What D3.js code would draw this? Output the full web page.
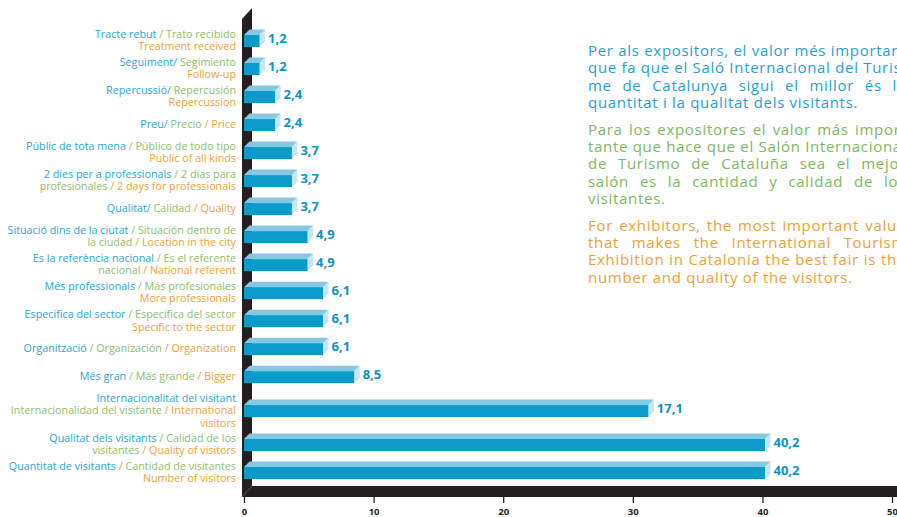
<!DOCTYPE html>
<html><head><meta charset="utf-8">
<script src="https://cdn.jsdelivr.net/npm/d3@7"></script>
<style>
html,body{margin:0;padding:0;background:#fff;overflow:hidden;}
svg{display:block;}
</style></head><body>
<svg id="chart" width="897" height="517"></svg>
<script>
// ---------------- DATA ----------------
const categories = [
  "Tracte rebut","Seguiment","Repercussió","Preu","Públic de tota mena",
  "2 dies per a professionals","Qualitat","Situació dins de la ciutat",
  "Es la referència nacional","Més professionals","Específica del sector",
  "Organització","Més gran","Internacionalitat del visitant",
  "Qualitat dels visitants","Quantitat de visitants"
];
// bar lengths as drawn in the picture
const values = [1.2,1.2,2.4,2.4,3.7,3.7,3.7,4.9,4.9,6.1,6.1,6.1,8.5,31.2,40.2,40.2];
// value labels as printed in the picture
const valueLabels = ["1,2","1,2","2,4","2,4","3,7","3,7","3,7","4,9","4,9","6,1","6,1","6,1","8,5","17,1","40,2","40,2"];
// each label: lines -> segments [text, language]
const labelLines = [
  [[["Tracte rebut ","ca"],["/ Trato recibido","es"]],[["Treatment received","en"]]],
  [[["Seguiment/","ca"],[" Segimiento","es"]],[["Follow-up","en"]]],
  [[["Repercussió/","ca"],[" Repercusión","es"]],[["Repercussion","en"]]],
  [[["Preu/","ca"],[" Precio ","es"],["/ Price","en"]]],
  [[["Públic de tota mena ","ca"],["/ Público de todo tipo","es"]],[["Public of all kinds","en"]]],
  [[["2 dies per a professionals ","ca"],["/ 2 días para","es"]],[["profesionales ","es"],["/ 2 days for professionals","en"]]],
  [[["Qualitat/","ca"],[" Calidad ","es"],["/ Quality","en"]]],
  [[["Situació dins de la ciutat ","ca"],["/ Situación dentro de","es"]],[["la ciudad ","es"],["/ Location in the city","en"]]],
  [[["Es la referència nacional ","ca"],["/ Es el referente","es"]],[["nacional ","es"],["/ National referent","en"]]],
  [[["Més professionals ","ca"],["/ Más profesionales","es"]],[["More professionals","en"]]],
  [[["Específica del sector ","ca"],["/ Específica del sector","es"]],[["Specific to the sector","en"]]],
  [[["Organització ","ca"],["/ Organización ","es"],["/ Organization","en"]]],
  [[["Més gran ","ca"],["/ Más grande ","es"],["/ Bigger","en"]]],
  [[["Internacionalitat del visitant","ca"]],[["Internacionalidad del visitante ","es"],["/ International","en"]],[["visitors","en"]]],
  [[["Qualitat dels visitants ","ca"],["/ Calidad de los","es"]],[["visitantes ","es"],["/ Quality of visitors","en"]]],
  [[["Quantitat de visitants ","ca"],["/ Cantidad de visitantes","es"]],[["Number of visitors","en"]]]
];
const xTicks = [0,10,20,30,40,50];
const noteCa = [
  "Per als expositors, el valor més important",
  "que fa que el Saló Internacional del Turis-",
  "me de Catalunya sigui el millor és la",
  "quantitat i la qualitat dels visitants."
];
const noteEs = [
  "Para los expositores el valor más impor-",
  "tante que hace que el Salón Internacional",
  "de Turismo de Cataluña sea el mejor",
  "salón es la cantidad y calidad de los",
  "visitantes."
];
const noteEn = [
  "For exhibitors, the most important value",
  "that makes the International Tourism",
  "Exhibition in Catalonia the best fair is the",
  "number and quality of the visitors."
];

// ---------------- STYLE ----------------
const langColor = {ca:"#2aa6d8", es:"#8cbf6b", en:"#eea23a"};
const noteColor = {ca:"#1f9fd6", es:"#7db95d", en:"#eda136"};
const FONT = "'Open Sans', 'DejaVu Sans', sans-serif";
const ink = "#231f20";

const svg = d3.select("#chart");
const W = 897, H = 517;

const x = d3.scaleLinear().domain([0,50]).range([244,892]);
const n = categories.length;
const weights = labelLines.map(l => l.length >= 3 ? 1.42 : 1);
let acc = 0;
const centersU = weights.map(w => { const c = acc + w/2; acc += w; return c; });
const y = d3.scaleLinear().domain([centersU[0], centersU[n-1]]).range([41, 473]);

const x0 = x(0);
const floorTop = 486, floorBot = 497;
const depth = 5.5, barH = 12;

// wall + floor
svg.append("path")
  .attr("d", `M${x0-2},19 L${x0+8},8 L${x0+8},${floorTop} L${W},${floorTop} L${W},${floorBot} L${x0-2},${floorBot} Z`)
  .attr("fill", ink);
svg.append("line")
  .attr("x1", x0-2).attr("y1", floorBot).attr("x2", x0+8).attr("y2", floorTop)
  .attr("stroke", "#6a6668").attr("stroke-width", 0.8);

// bars
const bars = svg.append("g").selectAll("g").data(values).join("g");
bars.each(function(v, i){
  const g = d3.select(this);
  const c = y(centersU[i]);
  const t = c - barH/2, b = c + barH/2;
  const x1 = x(v);
  g.append("polygon")
    .attr("points", [[x0,t],[x0+depth,t-depth],[x1+depth,t-depth],[x1,t]].join(" "))
    .attr("fill", "#86c7e2");
  g.append("polygon")
    .attr("points", [[x1,t],[x1+depth,t-depth],[x1+depth,b-depth],[x1,b]].join(" "))
    .attr("fill", "#c7e6f2");
  g.append("rect")
    .attr("x", x0).attr("y", t).attr("width", x1 - x0).attr("height", barH)
    .attr("fill", "#0a9bcb");
});

// value labels
svg.append("g").selectAll("text").data(values).join("text")
  .attr("x", d => x(d) + depth + 3)
  .attr("y", (d,i) => y(centersU[i]) - 3)
  .attr("dominant-baseline", "central")
  .attr("font-family", FONT).attr("font-weight", 700).attr("font-size", 13)
  .attr("fill", "#0795c8")
  .text((d,i) => valueLabels[i]);

// category labels
const lh = 12.3;
const labG = svg.append("g").attr("font-family", FONT).attr("font-size", 10.75).attr("text-anchor", "end");
labelLines.forEach((lines, i) => {
  const c = y(centersU[i]) - 0.8;
  lines.forEach((segs, j) => {
    const t = labG.append("text")
      .attr("x", 236)
      .attr("y", c + (j - (lines.length-1)/2) * lh)
      .attr("dominant-baseline", "central")
      .attr("xml:space", "preserve");
    segs.forEach(s => t.append("tspan").attr("fill", langColor[s[1]]).text(s[0]));
  });
});

// axis
const axisG = svg.append("g").attr("transform", `translate(0,${floorBot-1})`)
  .call(d3.axisBottom(x).tickValues(xTicks).tickSize(7).tickPadding(5).tickFormat(d3.format("d")));
axisG.select(".domain").remove();
axisG.selectAll(".tick line").attr("stroke", ink).attr("stroke-width", 1.3);
axisG.selectAll(".tick text").attr("fill", ink).attr("font-family", FONT)
  .attr("font-weight", 700).attr("font-size", 9.5);

// note text (justified)
const noteX = 588, noteW = 318, noteLH = 17.4, paraGap = 9;
const noteG = svg.append("g").attr("font-family", FONT).attr("font-size", 15).attr("letter-spacing", 0.7);
let ny = 50;
[[noteCa,"ca"],[noteEs,"es"],[noteEn,"en"]].forEach(([lines, lang], p) => {
  if (p > 0) ny += paraGap;
  lines.forEach((ln, j) => {
    const t = noteG.append("text").attr("x", noteX).attr("y", ny)
      .attr("dominant-baseline", "central").attr("fill", noteColor[lang]).text(ln);
    if (j < lines.length - 1) {
      const len = t.node().getComputedTextLength();
      const spaces = (ln.match(/ /g) || []).length;
      if (spaces > 0) t.attr("word-spacing", Math.max(0, (noteW - len) / spaces));
    }
    ny += noteLH;
  });
});
</script>
</body></html>
